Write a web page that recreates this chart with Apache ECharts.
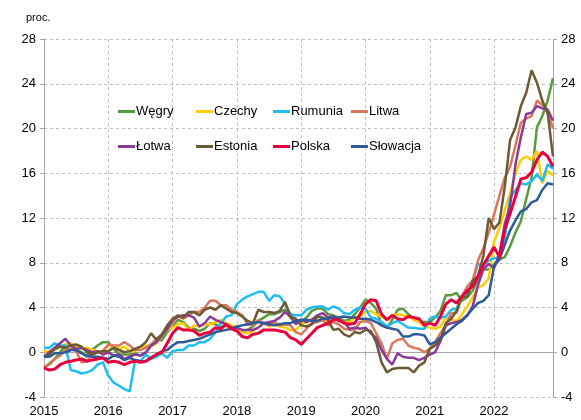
<!DOCTYPE html>
<html>
<head>
<meta charset="utf-8">
<script src="https://cdn.jsdelivr.net/npm/echarts@6/dist/echarts.min.js"></script>
<style>
    html, body { margin: 0; padding: 0; background: #fff; }
    #chart { width: 581px; height: 420px; }
</style>
</head>
<body>
<div id="chart"></div>
<script>
// lata na osi X (dane miesięczne sty 2015 - gru 2022)
const years = ['2015', '2016', '2017', '2018', '2019', '2020', '2021', '2022']
const yTicks = [-4, 0, 4, 8, 12, 16, 20, 24, 28]

// -----------------dane, r/r w proc.
const wegry = [
    -1.4, -1.0, -0.6, 0.0, 0.6, 0.6, 0.2, 0.0, -0.4, 0.2, 0.6, 0.9,
    0.9, 0.3, -0.2, -0.2, -0.2, -0.1, -0.3, -0.1, 0.6, 1.0, 1.1, 1.8,
    2.3, 2.9, 2.7, 2.2, 2.1, 1.9, 2.1, 2.6, 2.5, 2.2, 2.5, 2.1,
    2.1, 1.9, 2.0, 2.3, 2.8, 3.1, 3.4, 3.4, 3.6, 3.8, 3.1, 2.7,
    2.7, 3.1, 3.7, 3.9, 3.9, 3.4, 3.3, 3.1, 2.8, 2.9, 3.4, 4.0,
    4.7, 4.4, 3.9, 2.4, 2.2, 2.9, 3.8, 3.9, 3.4, 3.0, 2.7, 2.7,
    2.7, 3.1, 3.7, 5.1, 5.1, 5.3, 4.6, 4.9, 5.5, 6.5, 7.4, 7.4,
    7.9, 8.3, 8.5, 9.5, 10.7, 11.7, 13.7, 15.6, 20.1, 21.1, 22.5, 24.5
]
const czechy = [
    0.1, 0.1, 0.2, 0.5, 0.7, 0.8, 0.5, 0.3, 0.4, 0.2, 0.1, 0.1,
    0.6, 0.5, 0.3, 0.5, 0.1, 0.1, 0.5, 0.6, 0.5, 0.8, 1.5, 2.0,
    2.2, 2.5, 2.6, 2.0, 2.4, 2.3, 2.5, 2.5, 2.7, 2.9, 2.6, 2.4,
    2.2, 1.8, 1.7, 1.9, 2.2, 2.6, 2.3, 2.5, 2.3, 2.2, 2.0, 2.0,
    2.5, 2.7, 3.0, 2.8, 2.9, 2.7, 2.9, 2.9, 2.7, 2.7, 3.1, 3.2,
    3.6, 3.7, 3.4, 3.2, 2.9, 3.3, 3.4, 3.3, 3.2, 2.9, 2.7, 2.3,
    2.2, 2.1, 2.3, 3.1, 2.9, 2.8, 3.4, 4.1, 4.9, 5.8, 6.0, 6.6,
    9.9, 11.1, 12.7, 14.2, 16.0, 17.2, 17.5, 17.2, 18.0, 15.1, 16.2, 15.8
]
const rumunia = [
    0.4, 0.4, 0.8, 0.6, 0.6, -1.6, -1.7, -1.9, -1.8, -1.6, -1.1, -0.9,
    -2.1, -2.7, -3.0, -3.3, -3.5, -0.7, -0.8, -0.2, -0.6, -0.4, -0.1, -0.5,
    0.1, 0.2, 0.2, 0.6, 0.6, 0.9, 0.9, 1.2, 1.8, 2.6, 3.2, 3.3,
    4.3, 4.7, 5.0, 5.2, 5.4, 5.4, 4.6, 5.1, 5.0, 4.3, 3.4, 3.3,
    3.3, 3.8, 4.0, 4.1, 4.1, 3.8, 4.1, 3.9, 3.5, 3.4, 3.8, 4.0,
    3.9, 3.1, 3.0, 2.7, 2.3, 2.6, 2.8, 2.5, 2.2, 2.2, 2.1, 2.1,
    3.0, 3.2, 3.1, 3.2, 3.8, 3.9, 5.0, 5.3, 6.3, 7.9, 7.8, 8.2,
    8.4, 8.5, 10.2, 13.8, 14.5, 15.1, 15.0, 15.3, 15.9, 15.3, 16.8, 16.4
]
const litwa = [
    -1.3, -1.1, -0.6, -0.3, 0.2, 0.3, 0.1, -0.9, -0.8, -0.2, 0.0, 0.1,
    0.7, 0.6, 0.6, 0.9, 0.6, 0.2, 0.2, 0.4, 0.7, 1.2, 1.6, 2.0,
    2.7, 3.2, 3.0, 3.3, 3.6, 3.6, 4.0, 4.6, 4.6, 4.2, 4.2, 3.8,
    3.6, 3.3, 2.5, 2.4, 2.9, 2.6, 2.4, 2.7, 2.4, 2.5, 2.4, 1.8,
    1.6, 2.1, 2.6, 2.7, 2.9, 2.4, 2.7, 2.5, 2.1, 2.0, 2.0, 2.7,
    2.8, 2.6, 1.7, 0.8, -0.6, 0.8, 1.1, 1.2, 0.6, 0.4, 0.3, 0.0,
    0.3, 0.9, 1.7, 2.4, 3.5, 3.5, 5.0, 5.9, 6.4, 8.2, 9.3, 10.7,
    12.3, 14.0, 15.6, 16.6, 18.5, 20.5, 20.9, 21.1, 22.5, 22.1, 21.4, 20.0
]
const lotwa = [
    -0.4, 0.0, 0.4, 0.8, 1.2, 0.6, 0.3, 0.4, 0.2, 0.0, 0.1, -0.2,
    0.0, -0.3, -0.2, -0.6, -0.4, -0.2, -0.3, 0.0, 0.6, 0.9, 1.5, 2.1,
    2.9, 3.2, 3.3, 3.3, 3.1, 2.3, 2.6, 3.2, 2.9, 2.7, 2.5, 2.2,
    2.2, 2.0, 2.0, 2.0, 2.2, 2.6, 2.7, 2.8, 3.1, 3.6, 3.2, 2.5,
    2.9, 2.7, 2.9, 3.3, 3.5, 3.1, 3.2, 2.8, 2.7, 2.1, 2.2, 2.1,
    2.2, 1.7, 1.3, 0.2, -0.6, -1.1, -0.1, -0.4, -0.5, -0.5, -0.7, -0.5,
    -0.2, 0.0, 1.0, 2.4, 2.6, 2.7, 2.9, 3.3, 4.1, 6.0, 7.4, 7.9,
    7.5, 8.8, 11.5, 13.1, 16.8, 19.2, 21.3, 21.4, 22.0, 21.8, 21.7, 20.7
]
const estonia = [
    -0.4, -0.2, 0.3, 0.5, 0.4, 0.6, 0.7, 0.5, 0.0, -0.2, 0.0, 0.1,
    0.1, 0.4, 0.2, 0.0, 0.1, 0.3, 0.5, 0.9, 1.7, 1.1, 1.6, 2.4,
    3.0, 3.3, 3.1, 3.6, 3.6, 3.3, 3.8, 4.0, 3.8, 4.2, 3.9, 3.6,
    3.5, 3.2, 2.8, 2.6, 3.8, 3.6, 3.6, 3.5, 3.7, 4.5, 3.2, 3.0,
    2.4, 2.3, 2.5, 3.2, 3.1, 2.9, 2.0, 2.1, 1.6, 1.4, 1.8, 1.7,
    2.0, 1.9, 0.9, -0.9, -1.8, -1.5, -1.4, -1.4, -1.4, -1.8, -1.2, -0.9,
    0.3, 0.6, 1.1, 2.6, 3.0, 3.7, 4.9, 5.0, 6.4, 6.8, 8.6, 12.0,
    11.0, 11.6, 14.8, 19.0, 20.1, 22.0, 23.2, 25.2, 24.1, 22.5, 21.4, 17.5
]
const polska = [
    -1.4, -1.6, -1.5, -1.1, -0.9, -0.8, -0.7, -0.6, -0.8, -0.7, -0.6, -0.5,
    -0.9, -0.8, -0.9, -1.1, -0.9, -0.8, -0.9, -0.8, -0.5, -0.2, 0.0, 0.8,
    1.7, 2.2, 2.0, 2.0, 1.9, 1.5, 1.7, 1.8, 2.2, 2.1, 2.5, 2.1,
    1.9, 1.4, 1.3, 1.6, 1.7, 2.0, 2.0, 2.0, 1.9, 1.8, 1.3, 1.1,
    0.7, 1.2, 1.7, 2.2, 2.4, 2.6, 2.9, 2.9, 2.6, 2.5, 2.6, 3.4,
    4.3, 4.7, 4.6, 3.4, 2.9, 3.3, 3.0, 2.9, 3.2, 3.1, 3.0, 2.4,
    2.6, 2.4, 3.2, 4.3, 4.7, 4.4, 5.0, 5.5, 5.9, 6.8, 7.8, 8.6,
    9.4, 8.5, 11.0, 12.4, 13.9, 15.5, 15.6, 16.1, 17.2, 17.9, 17.5, 16.6
]
const slowacja = [
    -0.4, -0.4, -0.1, -0.1, 0.0, 0.2, 0.2, -0.1, -0.3, -0.4, -0.4, -0.5,
    -0.6, -0.3, -0.4, -0.7, -0.5, -0.7, -0.8, -0.8, -0.5, -0.2, 0.1, 0.2,
    0.6, 0.9, 0.9, 1.0, 1.1, 1.2, 1.4, 1.6, 1.8, 1.9, 2.0, 2.1,
    2.3, 2.4, 2.5, 2.6, 2.7, 2.6, 2.5, 2.4, 2.5, 2.6, 2.6, 2.8,
    2.9, 2.9, 2.8, 2.8, 3.0, 3.0, 3.1, 3.1, 3.2, 3.1, 3.1, 3.0,
    3.0, 2.9, 2.7, 2.4, 2.2, 2.1, 2.0, 1.4, 1.4, 1.6, 1.6, 1.5,
    0.7, 0.9, 1.3, 1.7, 2.1, 2.5, 2.8, 3.3, 3.9, 4.4, 4.6, 5.1,
    7.7, 8.3, 9.6, 10.9, 11.8, 12.6, 12.8, 13.4, 13.6, 14.5, 15.1, 15.0
]

const names = ['Węgry', 'Czechy', 'Rumunia', 'Litwa', 'Łotwa', 'Estonia', 'Polska', 'Słowacja']
const colors = ['#5a9a3e', '#ffcc00', '#20bdf0', '#d8775c', '#8b3a9b', '#6b5a34', '#e8003f', '#2e5a97']
const values = [wegry, czechy, rumunia, litwa, lotwa, estonia, polska, slowacja]

// miesiące jako kategorie
const months = []
years.forEach(y => {
    for (let m = 1; m <= 12; m++) months.push(y + '-' + (m < 10 ? '0' + m : m))
})
const isYearStart = (idx) => idx % 12 === 0

const font = '"Liberation Sans", Arial, sans-serif'
const gridColor = '#c0c0c0'
const axisColor = '#a6a6a6'

// legenda w dwóch rzędach po 4
const legendLeft = [118, 196, 273, 351]
const legendTop = [105, 140]
const legends = names.map((n, i) => ({
    data: [n],
    left: legendLeft[i % 4],
    top: legendTop[Math.floor(i / 4)],
    icon: 'rect',
    itemWidth: 17,
    itemHeight: 3,
    padding: 0,
    textStyle: { fontFamily: font, fontSize: 13, color: '#000', padding: [0, 0, 0, -4] }
}))

// kolejność rysowania - Polska na wierzchu
const drawOrder = [0, 1, 2, 3, 4, 5, 7, 6]
const series = drawOrder.map(i => ({
    name: names[i],
    type: 'line',
    data: values[i],
    symbol: 'none',
    lineStyle: { color: colors[i], width: i === 6 ? 3 : 2.5 },
    itemStyle: { color: colors[i] }
}))

const yAxisBase = {
    type: 'value',
    min: yTicks[0],
    max: yTicks[yTicks.length - 1],
    interval: 4,
    axisLine: { show: true, lineStyle: { color: axisColor, width: 1 } },
    axisTick: { show: true, length: 4, lineStyle: { color: axisColor } },
    axisLabel: { fontFamily: font, fontSize: 13, color: '#000', margin: 8 }
}

const mycharts = echarts.init(document.getElementById('chart'), null, { renderer: 'canvas' })
mycharts.setOption({
    animation: false,
    backgroundColor: '#fff',
    grid: { left: 44, right: 28, top: 39, bottom: 23 },
    legend: legends,
    graphic: [{
        type: 'text', left: 26, top: 12,
        style: { text: 'proc.', font: '11px ' + font, fill: '#000' }
    }],
    xAxis: {
        type: 'category',
        data: months,
        boundaryGap: false,
        axisLine: { show: true, lineStyle: { color: axisColor } },
        axisTick: { show: true, length: 4, interval: isYearStart, lineStyle: { color: axisColor } },
        splitLine: { show: true, interval: isYearStart, lineStyle: { color: gridColor, type: [3, 3] } },
        axisLabel: {
            interval: isYearStart,
            fontFamily: font, fontSize: 13, color: '#000', margin: 8,
            formatter: v => v.slice(0, 4)
        }
    },
    yAxis: [
        Object.assign({}, yAxisBase, {
            position: 'left',
            splitLine: { show: true, lineStyle: { color: gridColor, type: [3, 3] } }
        }),
        Object.assign({}, yAxisBase, {
            position: 'right',
            splitLine: { show: false }
        })
    ],
    series: series
})
</script>
</body>
</html>
